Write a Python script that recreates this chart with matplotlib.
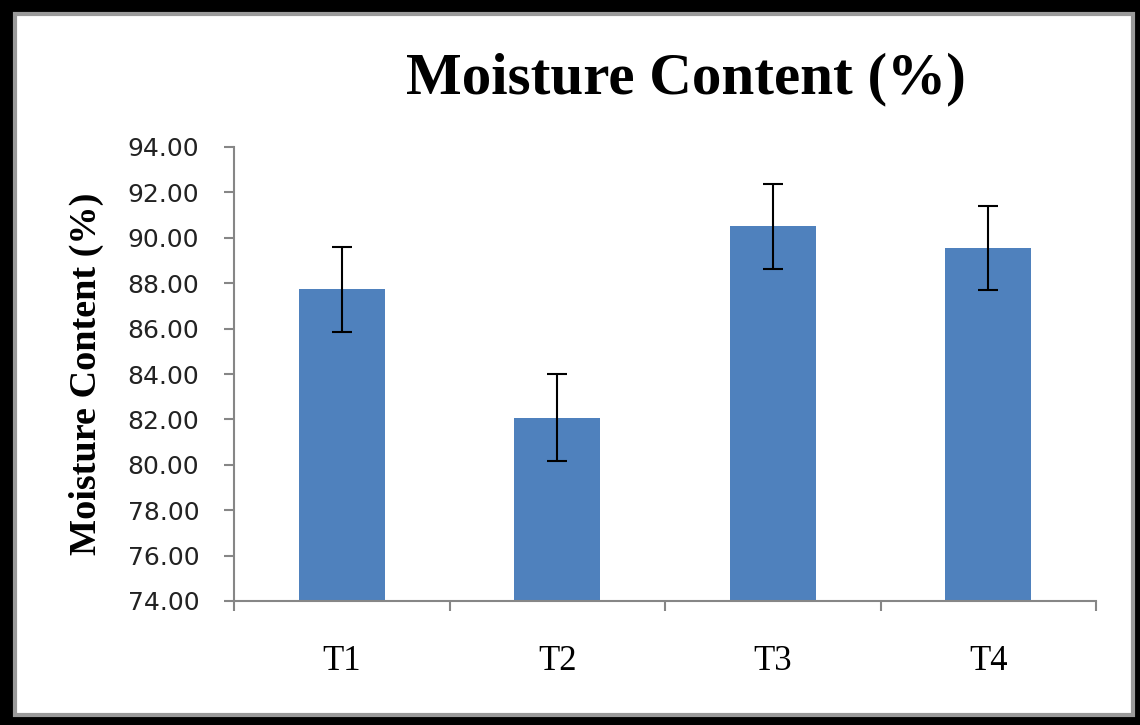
import matplotlib
matplotlib.use("Agg")
import matplotlib.pyplot as plt
from matplotlib.patches import Rectangle
from matplotlib.ticker import FormatStrFormatter, FixedLocator

categories = ["T1", "T2", "T3", "T4"]
values = [87.74, 82.08, 90.50, 89.55]
errors = [1.87, 1.92, 1.88, 1.87]
title = "Moisture Content (%)"
ylabel = "Moisture Content (%)"

W, H = 1140, 725
fig = plt.figure(figsize=(W / 100, H / 100), dpi=100)

# Outer frame: black band with thin gray inner line
fig.patches.append(Rectangle((0, 0), 1, 1, transform=fig.transFigure,
                             facecolor="black", edgecolor="none", zorder=-10))
fig.patches.append(Rectangle((15 / W, 10 / H), (1133 - 15) / W, (711 - 10) / H,
                             transform=fig.transFigure, facecolor="white",
                             edgecolor="#9a9a9a", linewidth=3, zorder=-9))

ax = fig.add_axes([234 / W, 124 / H, (1096 - 234) / W, (601 - 147) / H])
x = list(range(len(categories)))
ax.bar(x, values, width=0.4, color="#4F81BD", zorder=2)
ax.errorbar(x, values, yerr=errors, fmt="none", ecolor="black",
            elinewidth=1.5, capsize=7, capthick=1.5, zorder=3)

ax.set_ylim(74, 94)
ax.set_xlim(-0.5, len(categories) - 0.5)
ax.set_yticks([74 + 2 * i for i in range(11)])
ax.yaxis.set_major_formatter(FormatStrFormatter("%.2f"))
ax.set_xticks(x)
ax.set_xticklabels(categories, fontfamily="Liberation Serif", fontsize=25)
ax.xaxis.set_minor_locator(FixedLocator([i - 0.5 for i in range(len(categories) + 1)]))
ax.tick_params(axis="x", which="major", length=0, pad=32)
ax.tick_params(axis="x", which="minor", length=7, color="#868686", width=1.5)
ax.tick_params(axis="y", length=7, color="#868686", width=1.5, labelsize=18,
               labelcolor="#222222", pad=18)
for side in ["top", "right"]:
    ax.spines[side].set_visible(False)
for side in ["left", "bottom"]:
    ax.spines[side].set_color("#868686")
    ax.spines[side].set_linewidth(1.5)

ax.set_ylabel(ylabel, fontfamily="Liberation Serif", fontweight="bold",
              fontsize=27.5)
ax.yaxis.set_label_coords((104 - 234) / (1096 - 234), 0.5)
fig.text(686 / W, 1 - 79 / H, title, fontfamily="Liberation Serif",
         fontweight="bold", fontsize=42.5, ha="center", va="center")

fig.savefig("out.png", dpi=100)
